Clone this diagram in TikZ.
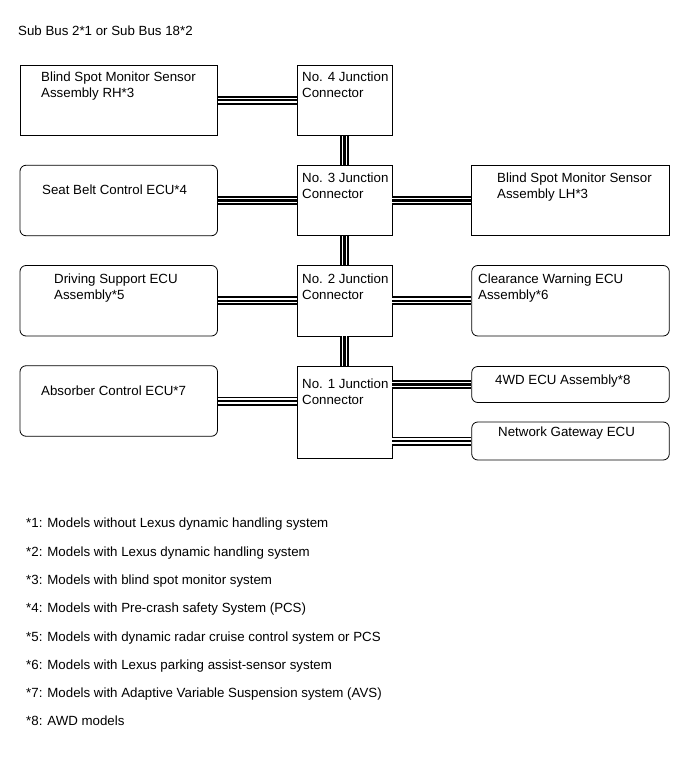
\documentclass[tikz,border=0pt]{standalone}
\usepackage{fontspec}
\setmainfont{Liberation Sans}
\usepackage{tikz}
\usetikzlibrary{positioning}
\tikzset{
  box/.style={draw, line width=0.8pt, minimum width=197.5pt, minimum height=70.5pt, inner sep=0pt},
  rbox/.style={box, rounded corners=6pt},
  jbox/.style={box, minimum width=95pt},
  bus/.style={line width=9pt, draw=black,
    postaction={draw=white, line width=5.2pt},
    postaction={draw=black, line width=2.4pt}},
  txt/.style={anchor=base west, inner sep=0pt, align=left,
    font=\fontsize{13.3}{16}\selectfont}
}

\begin{document}
\begin{tikzpicture}[x=1pt, y=-1pt]
  \useasboundingbox (0,0) rectangle (690,757);

  \node[txt] (title) at (18,35.5) {Sub Bus 2*1 or Sub Bus 18*2};

  % Left column
  \node[box]  (rh) at (118.75,100.25) {};
  \node[rbox] (sb) at (118.75,200.5) {};
  \node[rbox] (ds) at (118.75,300.75) {};
  \node[rbox] (ab) at (118.75,401) {};

  % Junction connectors
  \node[jbox] (j4) at (344.5,100.25) {};
  \node[jbox] (j3) at (344.5,200.5) {};
  \node[jbox] (j2) at (344.5,300.75) {};
  \node[jbox, minimum height=91.5pt] (j1) at (344.5,412.25) {};

  % Right column
  \node[box]  (lh) at (570.5,200.5) {};
  \node[rbox] (cw) at (570.5,300.75) {};
  \node[rbox, minimum height=36pt] (wd) at (570.5,384.5) {};
  \node[rbox, minimum height=38pt] (gw) at (570.5,441) {};

  % Box texts (base = last line)
  \node[txt] (rh-t) at (41,98)  {Blind Spot Monitor Sensor\\Assembly RH*3};
  \node[txt] (sb-t) at (42,194) {Seat Belt Control ECU*4};
  \node[txt] (ds-t) at (54,299) {Driving Support ECU\\Assembly*5};
  \node[txt] (ab-t) at (41,395) {Absorber Control ECU*7};
  \node[txt] (j4-t) at (302,98)  {No. 4 Junction\\Connector};
  \node[txt] (j3-t) at (302,198) {No. 3 Junction\\Connector};
  \node[txt] (j2-t) at (302,299) {No. 2 Junction\\Connector};
  \node[txt] (j1-t) at (302,404) {No. 1 Junction\\Connector};
  \node[txt] (lh-t) at (497,198) {Blind Spot Monitor Sensor\\Assembly LH*3};
  \node[txt] (cw-t) at (478,299) {Clearance Warning ECU\\Assembly*6};
  \node[txt] (wd-t) at (495,384) {4WD ECU Assembly*8};
  \node[txt] (gw-t) at (498,436) {Network Gateway ECU};

  % Bus lines
  \draw[bus] (rh) -- (j4);
  \draw[bus] (sb) -- (j3);
  \draw[bus] (j3) -- (lh);
  \draw[bus] (ds) -- (j2);
  \draw[bus] (j2) -- (cw);
  \draw[bus] (ab.east) -- (ab.east -| j1.west);
  \draw[bus] (j1.east |- wd.west) -- (wd.west);
  \draw[bus] (j1.east |- gw.west) -- (gw.west);
  \draw[bus] (j4) -- (j3);
  \draw[bus] (j3) -- (j2);
  \draw[bus] (j2) -- (j1);

  % Notes
  \foreach \n/\t [count=\i from 0] in {
    1/Models without Lexus dynamic handling system,
    2/Models with Lexus dynamic handling system,
    3/Models with blind spot monitor system,
    4/Models with Pre-crash safety System (PCS),
    5/Models with dynamic radar cruise control system or PCS,
    6/Models with Lexus parking assist-sensor system,
    7/Models with Adaptive Variable Suspension system (AVS),
    8/AWD models}
    \node[txt] (note\n) at (26,527.8+28.3*\i) {*\n: \t};
\end{tikzpicture}
\end{document}
